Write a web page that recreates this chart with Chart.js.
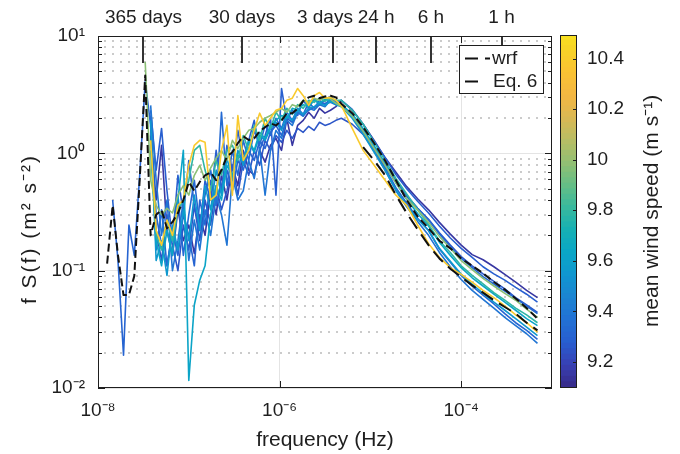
<!DOCTYPE html>
<html>
<head>
<meta charset="utf-8">
<script src="https://cdn.jsdelivr.net/npm/chart.js@4.4.1/dist/chart.umd.min.js"></script>
<style>
  html, body { margin: 0; padding: 0; background: #fff; }
  #wrap { position: relative; width: 680px; height: 454px; }
  #spec { position: absolute; left: 0; top: 0; }
  #cbar { position: absolute; left: 552px; top: 0; }
</style>
</head>
<body>
<div id="wrap">
  <canvas id="spec" width="680" height="454"></canvas>
  <canvas id="cbar" width="128" height="454"></canvas>
</div>
<script>
//Frequency grid (Hz) shared by every spectrum
const freq = [1.26e-8, 1.45e-8, 1.66e-8, 1.91e-8, 2.19e-8, 2.51e-8, 2.88e-8, 3.31e-8, 3.80e-8, 4.37e-8,
  5.01e-8, 5.75e-8, 6.61e-8, 7.59e-8, 8.71e-8,
  1.00e-7, 1.15e-7, 1.32e-7, 1.51e-7, 1.74e-7, 2.00e-7, 2.29e-7, 2.63e-7, 3.02e-7, 3.47e-7, 3.98e-7,
  4.57e-7, 5.25e-7, 6.03e-7, 6.92e-7, 7.94e-7, 9.12e-7,
  1.05e-6, 1.20e-6, 1.38e-6, 1.58e-6, 1.82e-6, 2.09e-6, 2.40e-6, 2.75e-6, 3.16e-6, 3.63e-6, 4.17e-6, 4.79e-6,
  6.31e-6, 8.32e-6, 1.10e-5, 1.45e-5, 1.91e-5, 2.51e-5, 3.31e-5, 4.37e-5, 5.75e-5, 7.59e-5,
  1.00e-4, 1.32e-4, 1.74e-4, 2.29e-4, 3.02e-4, 3.98e-4, 5.25e-4, 6.92e-4];

//Axis ticks
const xTicks = [1e-8, 1e-6, 1e-4];
const yTicks = [1e-2, 1e-1, 1, 10];
const yMinor = [0.02, 0.03, 0.04, 0.05, 0.06, 0.07, 0.08, 0.09, 0.2, 0.3, 0.4, 0.5, 0.6, 0.7, 0.8, 0.9,
  2, 3, 4, 5, 6, 7, 8, 9];
const periodFreq = [3.17e-8, 3.86e-7, 3.86e-6, 1.157e-5, 4.63e-5, 2.78e-4];
const periodLabels = ["365 days", "30 days", "3 days   ", "24 h", "6 h", "1 h"];

//Colorbar range and ticks (mean wind speed, m/s)
const cbMin = 9.097;
const cbMax = 10.493;
const cbTicks = [9.2, 9.4, 9.6, 9.8, 10, 10.2, 10.4];

//Black reference curves
const wrf = [0.115, 0.36, 0.135, 0.062, 0.062, 0.09, 0.6, 4.6,
  0.2, 0.3, 0.33, 0.23, 0.26, 0.31, 0.40, 0.57, 0.48, 0.57, 0.65, 0.69, 0.59, 0.72, 0.94, 1.02, 1.22, 1.4, 1.3, 1.34,
  1.54, 1.67, 1.8, 1.73, 1.9, 2.2, 2.2, 2.4, 2.8, 3.0, 3.1, 2.95, 3.05, 3.1, 3.0,
  2.65, 2.2, 1.67, 1.22, 0.87, 0.59, 0.40, 0.29, 0.23, 0.18, 0.155, 0.127, 0.11, 0.095, 0.08, 0.069, 0.058, 0.048, 0.039];
const eq6 = [null, null, null, null, null, null, null, null, null, null, null, null, null, null, null,
  null, null, null, null, null, null, null, null, null, null, null, null, null, null, null,
  null, null, null, null, null, null, null, null, null, null, null, null, null, null, null,
  1.13, 0.87, 0.65, 0.44, 0.31, 0.225, 0.165, 0.127, 0.104, 0.088, 0.075, 0.065, 0.056, 0.049, 0.043, 0.036, 0.031];

//Observed spectra, one per station (named by mean wind speed)
const fs1038 = [null, null, null, null, null, null, null, null,
  1.29, 0.22, 0.165, 0.27, 0.20, 0.36, 0.40, 0.79, 1.17, 1.29, 1.24, 0.40, 0.44, 1.06, 1.73, 0.44, 2.1, 0.87, 1.06, 1.57,
  2.2, 1.73, 1.99, 2.33, 2.42, 2.83, 2.95, 3.57, 3.1, 2.56, 3.1, 3.3, 2.95, 3.0, 2.83,
  2.56, 1.63, 1.06, 0.79, 0.59, 0.44, 0.36, 0.245, 0.17, 0.13, 0.106, 0.093, 0.08, 0.068, 0.059, 0.05, 0.042, 0.036, 0.030];
const fs997 = [null, null, null, null, null, null, null, 6.0,
  0.59, 0.36, 0.30, 0.34, 0.31, 0.44, 0.53, 0.44, 0.65, 0.79, 0.59, 0.75, 0.91, 1.06, 0.87, 1.29, 1.1, 1.34, 1.57, 1.63,
  1.84, 1.99, 2.1, 2.24, 2.42, 2.24, 2.6, 2.5, 2.83, 2.72, 2.95, 2.83, 3.0, 2.9, 2.67,
  2.5, 2.07, 1.54, 1.1, 0.79, 0.56, 0.41, 0.33, 0.258, 0.196, 0.155, 0.122, 0.102, 0.086, 0.074, 0.064, 0.056, 0.047, 0.04];
const fs978 = [null, null, null, null, null, null, null, null,
  1.29, 0.20, 0.15, 0.27, 0.18, 0.33, 0.40, 0.59, 1.06, 1.17, 0.72, 0.48, 0.87, 0.65, 1.06, 1.17, 0.87, 1.42, 1.06, 1.73,
  1.29, 1.99, 1.63, 2.24, 1.91, 2.42, 2.15, 2.6, 2.42, 2.83, 2.72, 2.95, 2.77, 3.0, 2.83,
  2.83, 2.33, 1.77, 1.24, 0.87, 0.61, 0.45, 0.33, 0.247, 0.18, 0.143, 0.11, 0.091, 0.077, 0.065, 0.056, 0.048, 0.042, 0.036];
const fs962 = [null, null, null, null, null, null, null, null,
  1.06, 0.18, 0.11, 0.22, 0.135, 0.40, 1.06, 0.0116, 0.051, 0.083, 0.11, 0.30, 0.53, 0.40, 0.79, 0.65, 0.96, 0.87, 1.29, 1.06,
  1.51, 1.34, 1.73, 1.91, 2.1, 1.99, 2.42, 2.33, 2.6, 2.5, 2.83, 2.67, 2.9, 2.77, 2.67,
  2.6, 2.15, 1.63, 1.15, 0.81, 0.56, 0.406, 0.307, 0.24, 0.175, 0.135, 0.106, 0.087, 0.074, 0.063, 0.054, 0.046, 0.039, 0.034];
const fs955 = [null, null, null, null, null, null, null, null,
  1.91, 0.122, 0.18, 0.091, 0.245, 0.15, 0.33, 0.18, 0.44, 0.22, 0.53, 0.33, 0.72, 0.44, 0.91, 0.59, 1.06, 0.79, 1.24, 1.02,
  1.42, 1.29, 1.63, 1.84, 1.57, 2.1, 1.91, 2.33, 2.15, 2.42, 2.5, 2.67, 2.56, 2.77, 2.6,
  2.5, 1.99, 1.45, 1.02, 0.72, 0.49, 0.36, 0.274, 0.22, 0.155, 0.12, 0.093, 0.077, 0.064, 0.054, 0.046, 0.039, 0.033, 0.028];
const fs938 = [null, null, null, null, null, null, null, null,
  2.56, 0.59, 0.20, 0.40, 0.10, 0.18, 0.40, 0.122, 0.27, 0.15, 0.33, 0.20, 0.44, 0.30, 0.165, 0.65, 0.40, 0.48, 0.87, 0.61,
  1.1, 0.44, 1.06, 1.57, 1.34, 1.91, 1.73, 2.24, 2.07, 2.42, 2.33, 2.6, 2.5, 2.83, 2.72,
  2.6, 2.07, 1.51, 1.04, 0.72, 0.48, 0.35, 0.263, 0.20, 0.143, 0.108, 0.084, 0.068, 0.057, 0.048, 0.04, 0.034, 0.029, 0.024];
const fs933 = [null, null, null, null, null, null, null, null,
  2.1, 0.15, 0.33, 0.11, 0.22, 0.44, 0.135, 0.30, 0.59, 0.245, 0.44, 0.72, 0.36, 2.24, 0.53, 1.06, 0.65, 1.29, 0.87, 1.57,
  1.17, 1.73, 1.42, 1.99, 1.63, 2.24, 1.91, 2.42, 2.15, 2.72, 2.42, 2.83, 2.6, 2.95, 2.67,
  2.6, 2.15, 1.6, 1.15, 0.82, 0.59, 0.44, 0.34, 0.27, 0.205, 0.16, 0.127, 0.106, 0.089, 0.077, 0.067, 0.058, 0.05, 0.043];
const fs930 = [null, 0.40, 0.122, 0.019, 0.245, 0.135, 0.65, 4.1,
  1.73, 0.30, 0.165, 0.11, 0.22, 0.135, 0.30, 0.20, 0.11, 0.40, 0.245, 0.59, 0.36, 0.53, 0.72, 0.48, 0.87, 0.72, 1.06, 0.87,
  1.29, 1.1, 1.51, 1.73, 1.42, 1.99, 1.84, 2.24, 2.1, 2.33, 2.47, 2.6, 2.67, 2.72, 2.6,
  2.56, 2.07, 1.51, 1.06, 0.75, 0.51, 0.375, 0.28, 0.22, 0.153, 0.118, 0.091, 0.074, 0.062, 0.052, 0.043, 0.036, 0.031, 0.026];
const fs928 = [null, null, null, null, null, null, null, null,
  2.33, 0.72, 1.63, 0.48, 0.18, 0.65, 0.30, 0.87, 0.36, 0.22, 0.59, 0.40, 1.06, 0.48, 1.17, 0.72, 1.57, 0.87, 1.29, 1.91,
  1.06, 1.42, 1.99, 0.44, 3.57, 1.91, 2.33, 2.1, 2.83, 2.42, 2.95, 2.6, 2.83, 3.05, 2.72,
  2.83, 2.37, 1.77, 1.27, 0.92, 0.66, 0.50, 0.39, 0.31, 0.24, 0.19, 0.155, 0.13, 0.108, 0.094, 0.083, 0.072, 0.063, 0.054];
const fs925 = [null, null, null, null, null, null, null, null,
  1.73, 0.22, 0.122, 0.30, 0.165, 0.10, 0.245, 0.15, 0.36, 0.18, 0.40, 0.245, 0.53, 0.33, 0.48, 0.79, 0.44, 0.87, 0.65, 1.06,
  0.79, 1.29, 1.06, 1.42, 1.24, 1.57, 1.34, 1.63, 1.51, 1.7, 1.57, 1.84, 1.73, 1.8, 1.91,
  1.99, 1.77, 1.45, 1.06, 0.77, 0.57, 0.43, 0.34, 0.274, 0.21, 0.165, 0.132, 0.11, 0.094, 0.081, 0.07, 0.059, 0.051, 0.044];
const fs915 = [null, null, null, null, null, null, null, null,
  1.42, 0.40, 1.17, 0.22, 0.135, 0.33, 0.18, 0.245, 0.14, 0.30, 0.20, 0.48, 0.30, 0.65, 0.40, 0.79, 0.53, 1.06, 0.72, 0.65,
  1.06, 0.84, 1.17, 1.34, 1.06, 1.99, 1.17, 1.73, 1.91, 2.24, 1.99, 2.42, 2.2, 2.33, 2.5,
  2.83, 2.33, 1.77, 1.29, 0.92, 0.69, 0.52, 0.41, 0.33, 0.258, 0.205, 0.165, 0.137, 0.124, 0.108, 0.093, 0.08, 0.068, 0.059];

//Top of the list is drawn on top
const runs = [fs1038, fs997, fs978, fs962, fs955, fs938, fs933, fs930, fs928, fs925, fs915];
const meanSpeed = [10.38, 9.97, 9.78, 9.62, 9.55, 9.38, 9.33, 9.30, 9.28, 9.25, 9.15];

//Parula-like colormap stops, toned to the printed figure
const parulaPos = [0, 4, 8, 12, 16, 20, 24, 28, 32, 36, 40, 44, 48, 52, 56, 60, 63];
const parulaStops = [[55, 42, 135], [56, 64, 180], [40, 94, 208], [34, 113, 212], [28, 132, 210], [16, 150, 207],
  [10, 166, 198], [22, 176, 180], [56, 185, 158], [101, 190, 134], [146, 191, 115], [183, 189, 100],
  [217, 184, 84], [244, 182, 66], [250, 194, 52], [247, 210, 40], [248, 226, 30]];

function parula(t) {
  t = Math.min(1, Math.max(0, t)) * 63;
  let k = 0;
  while (k < parulaPos.length - 2 && t > parulaPos[k + 1]) k++;
  const f = (t - parulaPos[k]) / (parulaPos[k + 1] - parulaPos[k]);
  const a = parulaStops[k], b = parulaStops[k + 1];
  return "rgb(" + a.map((c, j) => Math.round(c + (b[j] - c) * f)).join(",") + ")";
}
function speedColor(ws) {
  return parula((ws - cbMin) / (cbMax - cbMin));
}

//10^n label with unicode superscripts
const supChars = { "-": "\u207B", "0": "\u2070", "1": "\u00B9", "2": "\u00B2", "3": "\u00B3", "4": "\u2074",
  "5": "\u2075", "6": "\u2076", "7": "\u2077", "8": "\u2078", "9": "\u2079" };
function pow10Label(v) {
  const e = String(Math.round(Math.log10(v)));
  return "10" + e.split("").map((c) => supChars[c]).join("");
}

function toXY(vals) {
  return freq.map((f, i) => ({ x: f, y: vals[i] }));
}

const FONT = "'Liberation Sans', Arial, Helvetica, sans-serif";
const INK = "#1e1e1e";
Chart.defaults.font.family = FONT;
Chart.defaults.font.size = 19;
Chart.defaults.color = INK;

const datasets = [
  { label: "wrf", data: toXY(wrf), borderColor: "#111", borderWidth: 2, borderDash: [8, 4] },
  { label: "Eq. 6", data: toXY(eq6), borderColor: "#111", borderWidth: 2, borderDash: [14, 7] },
];
runs.forEach((r, i) => {
  datasets.push({ label: "ws " + meanSpeed[i], data: toXY(r), borderColor: speedColor(meanSpeed[i]), borderWidth: 1.6 });
});

//Inside ticks, minor grid, frame and legend, the MATLAB way
const decor = {
  id: "decor",
  beforeDatasetsDraw(chart) {
    const { ctx, chartArea: a, scales } = chart;
    ctx.save();
    ctx.strokeStyle = "#cbcbcb";
    ctx.lineWidth = 2;
    ctx.setLineDash([2, 6]);
    yMinor.forEach((v) => {
      const py = Math.round(scales.y.getPixelForValue(v));
      ctx.beginPath();
      ctx.moveTo(a.left + 6, py);
      ctx.lineTo(a.right - 4, py);
      ctx.stroke();
    });
    ctx.restore();
  },
  afterDatasetsDraw(chart) {
    const { ctx, chartArea: a, scales } = chart;
    ctx.save();
    ctx.strokeStyle = INK;
    ctx.lineWidth = 1;
    ctx.setLineDash([]);
    const seg = (x1, y1, x2, y2) => { ctx.beginPath(); ctx.moveTo(x1, y1); ctx.lineTo(x2, y2); ctx.stroke(); };
    yTicks.forEach((v) => {
      const py = Math.round(scales.y.getPixelForValue(v)) + 0.5;
      seg(a.left, py, a.left + 7, py);
      seg(a.right, py, a.right - 7, py);
    });
    yMinor.forEach((v) => {
      const py = Math.round(scales.y.getPixelForValue(v)) + 0.5;
      seg(a.left, py, a.left + 4, py);
      seg(a.right, py, a.right - 4, py);
    });
    xTicks.forEach((v) => {
      const px = Math.round(scales.x.getPixelForValue(v)) + 0.5;
      seg(px, a.bottom, px, a.bottom - 7);
      seg(px, a.top, px, a.top + 7);
    });
    ctx.lineWidth = 1.8;
    periodFreq.forEach((f) => {
      const px = Math.round(scales.x2.getPixelForValue(f));
      seg(px, a.top, px, a.top + 27);
    });
    ctx.lineWidth = 1;
    ctx.strokeRect(a.left + 0.5, a.top + 0.5, a.right - a.left - 1, a.bottom - a.top - 1);

    //legend box
    const lx = 459, ly = 45, lw = 84, lh = 48;
    ctx.fillStyle = "#fff";
    ctx.fillRect(lx, ly, lw, lh);
    ctx.strokeStyle = INK;
    ctx.strokeRect(lx + 0.5, ly + 0.5, lw, lh);
    ctx.lineWidth = 2;
    ctx.strokeStyle = "#111";
    ctx.setLineDash([13, 7, 5, 40]);
    seg(465, 58.5, 490, 58.5);
    ctx.setLineDash([13, 40]);
    seg(465, 81.5, 490, 81.5);
    ctx.setLineDash([]);
    ctx.fillStyle = INK;
    ctx.font = "19px " + FONT;
    ctx.textBaseline = "middle";
    ctx.fillText(chart.data.datasets[0].label, 492, 59);
    ctx.fillText(chart.data.datasets[1].label, 493, 82);

    //y axis title
    ctx.font = "21px " + FONT;
    ctx.letterSpacing = "2px";
    ctx.translate(30, 229);
    ctx.rotate(-Math.PI / 2);
    ctx.textAlign = "center";
    ctx.fillText("f S(f) (m\u00B2 s\u207B\u00B2)", 0, 0);
    ctx.restore();
  },
};

new Chart(document.getElementById("spec"), {
  type: "line",
  data: { datasets: datasets },
  plugins: [decor],
  options: {
    responsive: false,
    animation: false,
    devicePixelRatio: 1,
    layout: { padding: { left: 0, right: 128, top: 0, bottom: 0 } },
    plugins: { legend: { display: false }, tooltip: { enabled: false } },
    elements: { point: { radius: 0 }, line: { tension: 0, borderJoinStyle: "round" } },
    scales: {
      x: {
        type: "logarithmic", position: "bottom", min: 1e-8, max: 1e-3,
        afterBuildTicks: (s) => { s.ticks = xTicks.map((v) => ({ value: v })); },
        afterFit: (s) => { s.height = 66; },
        ticks: { callback: (v) => pow10Label(v), padding: 11, maxRotation: 0, minRotation: 0, autoSkip: false },
        grid: { color: "#e4e4e4", lineWidth: 1, drawTicks: false },
        border: { display: false },
        title: { display: true, text: "frequency (Hz)", font: { size: 21 }, padding: { top: 0, bottom: 1 } },
      },
      x2: {
        type: "logarithmic", axis: "x", position: "top", min: 1e-8, max: 1e-3,
        afterBuildTicks: (s) => { s.ticks = periodFreq.map((v) => ({ value: v })); },
        afterFit: (s) => { s.height = 36; },
        ticks: { callback: (v, i) => periodLabels[i], padding: 7, maxRotation: 0, minRotation: 0, autoSkip: false },
        grid: { display: false, drawTicks: false },
        border: { display: false },
      },
      y: {
        type: "logarithmic", position: "left", min: 0.01, max: 10,
        afterBuildTicks: (s) => { s.ticks = yTicks.map((v) => ({ value: v })); },
        afterFit: (s) => { s.width = 98; },
        ticks: { callback: (v) => pow10Label(v), padding: 13, autoSkip: false },
        grid: { color: "#e4e4e4", lineWidth: 1, drawTicks: false },
        border: { display: false },
      },
    },
  },
});

//Colorbar: one floating bar per colour cell
const nCells = 64;
const cellSets = [];
for (let i = 0; i < nCells; i++) {
  const lo = cbMin + ((cbMax - cbMin) * i) / nCells;
  const hi = cbMin + ((cbMax - cbMin) * (i + 1)) / nCells;
  cellSets.push({
    data: [[lo, Math.min(cbMax, hi + 0.003)]],
    backgroundColor: parula((i + 0.5) / nCells),
    borderWidth: 0, barPercentage: 1, categoryPercentage: 1, grouped: false,
  });
}

const cbDecor = {
  id: "cbDecor",
  afterDatasetsDraw(chart) {
    const { ctx, chartArea: a, scales } = chart;
    ctx.save();
    ctx.strokeStyle = INK;
    ctx.lineWidth = 1;
    cbTicks.forEach((v) => {
      const py = Math.round(scales.y.getPixelForValue(v)) + 0.5;
      ctx.beginPath();
      ctx.moveTo(a.right - 4, py);
      ctx.lineTo(a.right, py);
      ctx.stroke();
    });
    ctx.strokeRect(a.left + 0.5, a.top + 0.5, a.right - a.left - 1, a.bottom - a.top - 1);
    ctx.fillStyle = INK;
    ctx.font = "21px " + FONT;
    ctx.textAlign = "center";
    ctx.textBaseline = "middle";
    ctx.translate(100, 211);
    ctx.rotate(-Math.PI / 2);
    ctx.fillText("mean wind speed (m s\u207B\u00B9)", 0, 0);
    ctx.restore();
  },
};

new Chart(document.getElementById("cbar"), {
  type: "bar",
  data: { labels: [""], datasets: cellSets },
  plugins: [cbDecor],
  options: {
    responsive: false,
    animation: false,
    devicePixelRatio: 1,
    layout: { padding: { left: 8, right: 0, top: 35, bottom: 66 } },
    plugins: { legend: { display: false }, tooltip: { enabled: false } },
    scales: {
      x: { display: false },
      y: {
        type: "linear", position: "right", min: cbMin, max: cbMax,
        afterBuildTicks: (s) => { s.ticks = cbTicks.map((v) => ({ value: v })); },
        afterFit: (s) => { s.width = 103; },
        ticks: { callback: (v) => String(Math.round(v * 10) / 10), padding: 10, autoSkip: false },
        grid: { display: false, drawTicks: false },
        border: { display: false },
      },
    },
  },
});
</script>
</body>
</html>
